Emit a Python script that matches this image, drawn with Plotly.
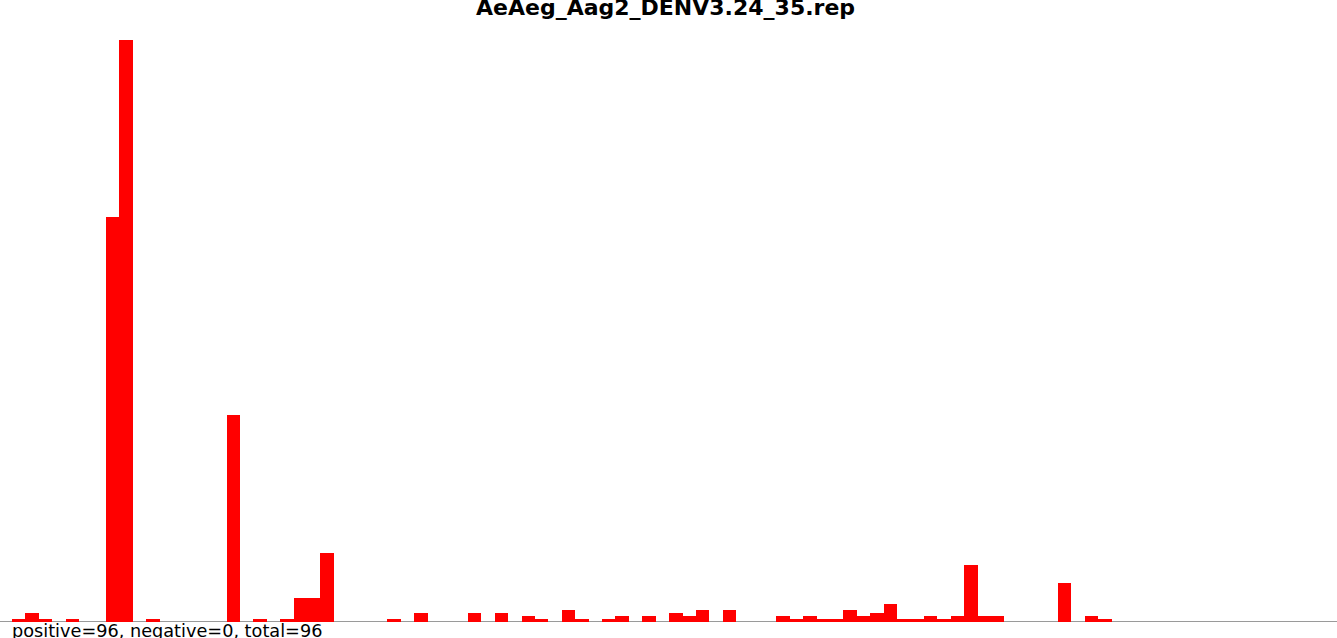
import plotly.graph_objects as go

title_text = "AeAeg_Aag2_DENV3.24_35.rep"
footer_text = "positive=96, negative=0, total=96"

positions = list(range(99))
values = [
    1, 3, 1, 0, 1, 0, 0, 135, 194, 0,
    1, 0, 0, 0, 0, 0, 69, 0, 1, 0,
    1, 8, 8, 23, 0, 0, 0, 0, 1, 0,
    3, 0, 0, 0, 3, 0, 3, 0, 2, 1,
    0, 4, 1, 0, 1, 2, 0, 2, 0, 3,
    2, 4, 0, 4, 0, 0, 0, 2, 1, 2,
    1, 1, 4, 2, 3, 6, 1, 1, 2, 1,
    2, 19, 2, 2, 0, 0, 0, 0, 13, 0,
    2, 1, 0, 0, 0, 0, 0, 0, 0, 0,
    0, 0, 0, 0, 0, 0, 0, 0, 0,
]

W, H = 1337, 638
px_per_bin = 13.41
left_px = 12

fig = go.Figure()
fig.add_trace(go.Bar(
    x=positions, y=values,
    marker=dict(color="#ff0000", line=dict(width=0)),
    hoverinfo="x+y",
))

x0 = -0.5 - left_px / px_per_bin
x1 = -0.5 + (W - left_px) / px_per_bin

fig.update_layout(
    width=W, height=H,
    margin=dict(l=0, r=0, t=22, b=16, pad=0),
    paper_bgcolor="white", plot_bgcolor="white",
    bargap=0, showlegend=False,
    xaxis=dict(range=[x0, x1], visible=False, fixedrange=True),
    yaxis=dict(range=[0, 200], visible=False, fixedrange=True),
    shapes=[dict(type="line", xref="paper", yref="y", x0=0, x1=1, y0=0, y1=0,
                 line=dict(color="#9a9a9a", width=2), layer="below")],
    annotations=[
        dict(text="<b>" + title_text + "</b>", xref="paper", yref="paper",
             x=665 / W, y=1.0, xanchor="center", yanchor="bottom", showarrow=False,
             font=dict(family="DejaVu Sans", size=22, color="black")),
        dict(text=footer_text, xref="paper", yref="paper",
             x=10 / W, y=0.005, xanchor="left", yanchor="top", showarrow=False,
             font=dict(family="DejaVu Sans", size=17.7, color="black")),
    ],
)

fig.write_html(
    "out.html",
    config={"displayModeBar": False},
    post_script="document.body.style.margin='0px';document.body.style.overflow='hidden';",
)
